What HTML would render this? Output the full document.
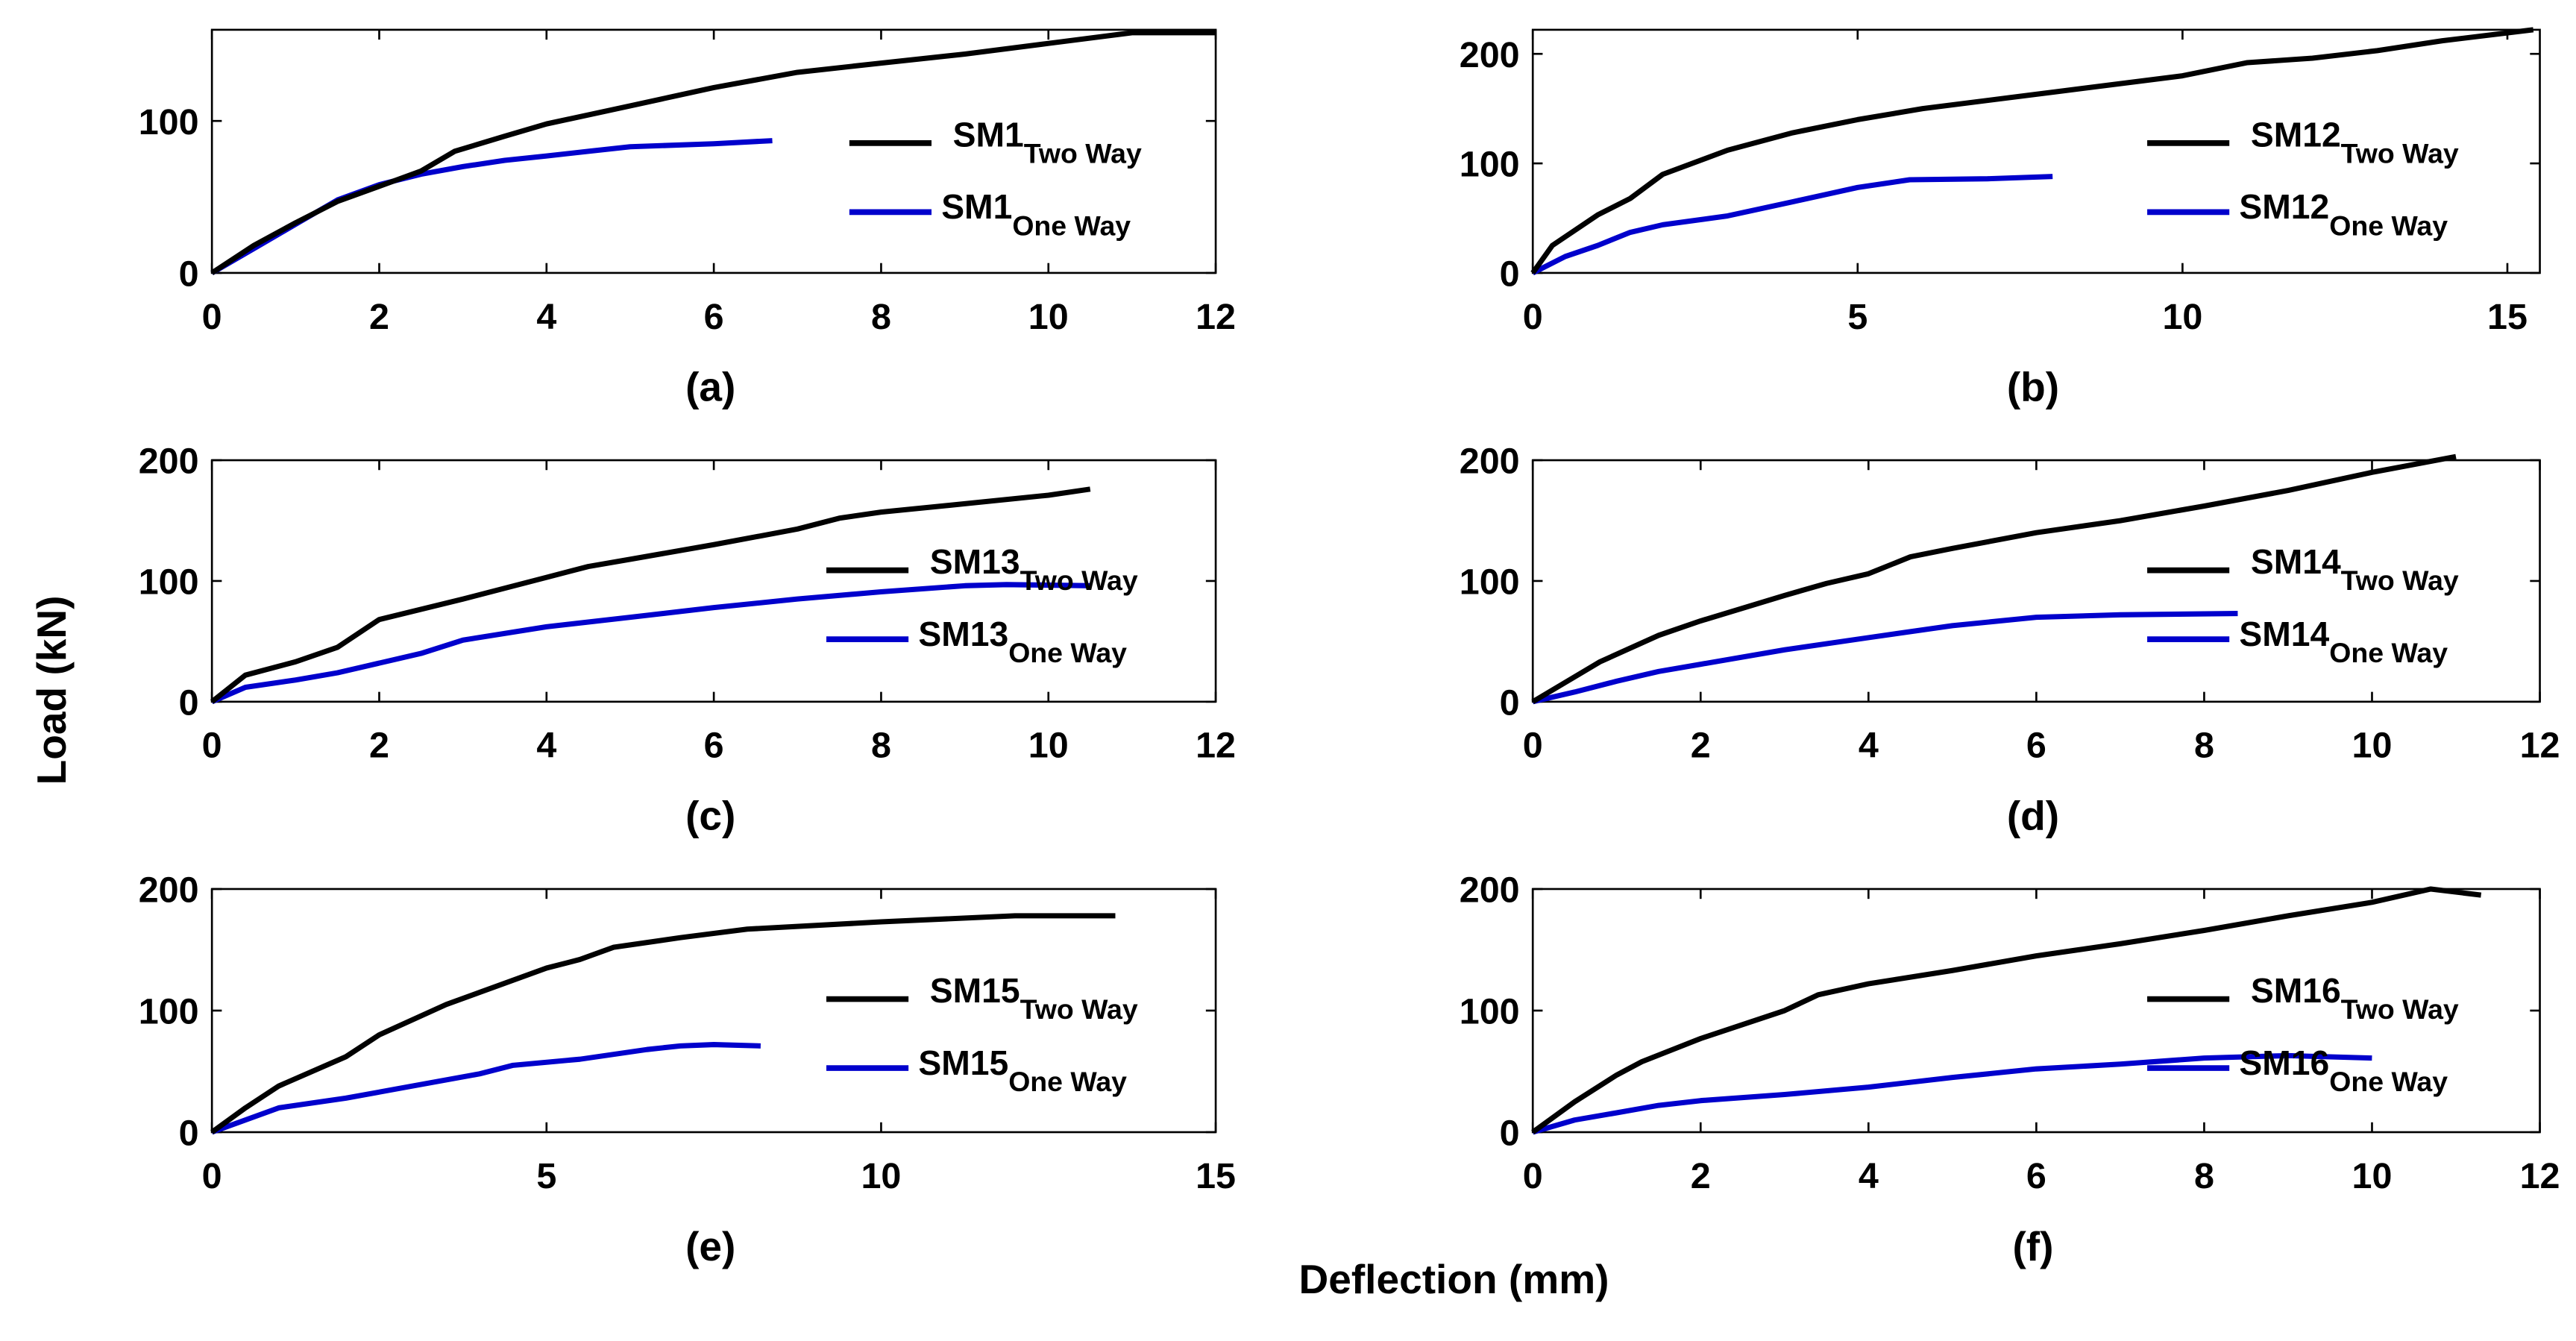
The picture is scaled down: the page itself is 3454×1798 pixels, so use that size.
<!DOCTYPE html>
<html><head><meta charset="utf-8">
<style>
html,body{margin:0;padding:0;background:#fff;}
svg{display:block;font-family:"Liberation Sans",Arial,sans-serif;font-weight:bold;}
</style></head>
<body>
<svg id="fig" width="3454" height="1798" viewBox="0 0 1568 816" xmlns="http://www.w3.org/2000/svg">
<text transform="translate(40,420) rotate(-90)" text-anchor="middle" font-size="25">Load (kN)</text>
<text x="885" y="787" text-anchor="middle" font-size="25">Deflection (mm)</text>
</svg>
<script>
const panelNames = ["a","b","c","d","e","f"];
const specimens = ["SM1","SM12","SM13","SM14","SM15","SM16"];
const xMaxes = [12,15.5,12,12,15,12];
const yMaxes = [160,222,200,200,200,200];
const xTicksA = [0,2,4,6,8,10,12];
const xTicksB = [0,5,10,15];
const xTicksE = [0,5,10,15];
const yTicksA = [0,100];
const yTicksB = [0,100,200];
const yTicksC = [0,100,200];

const twoA_x=[0,0.5,1,1.5,2,2.5,2.9,3.5,4,5,6,7,8,9,10,11,12];
const twoA_y=[0,18,33,47,57,67,80,90,98,110,122,132,138,144,151,158,158];
const oneA_x=[0,0.5,1,1.5,2,2.5,3,3.5,4,4.5,5,6,6.7];
const oneA_y=[0,16,32,48,58,65,70,74,77,80,83,85,87];
const twoB_x=[0,0.3,1,1.5,2,3,4,5,6,8,10,11,12,13,14,15.4];
const twoB_y=[0,25,53,68,90,112,128,140,150,165,180,192,196,203,212,222];
const oneB_x=[0,0.5,1,1.5,2,3,4,5,5.8,7,8];
const oneB_y=[0,15,25,37,44,52,65,78,85,86,88];
const twoC_x=[0,0.4,1,1.5,2,3,4,4.5,5,6,7,7.5,8,9,10,10.5];
const twoC_y=[0,22,33,45,68,85,103,112,118,130,143,152,157,164,171,176];
const oneC_x=[0,0.4,1,1.5,2,2.5,3,4,5,6,7,8,9,9.5,10.5];
const oneC_y=[0,12,18,24,32,40,51,62,70,78,85,91,96,97,96];
const twoD_x=[0,0.8,1.5,2,3,3.5,4,4.5,5,6,7,8,9,10,11];
const twoD_y=[0,33,55,67,88,98,106,120,127,140,150,162,175,190,203];
const oneD_x=[0,0.5,1,1.5,2,3,4,5,6,7,8.4];
const oneD_y=[0,8,17,25,31,43,53,63,70,72,73];
const twoE_x=[0,0.5,1,2,2.5,3.5,4,5,5.5,6,7,8,10,12,13.5];
const twoE_y=[0,20,38,62,80,105,115,135,142,152,160,167,173,178,178];
const oneE_x=[0,1,2,3,4,4.5,5.5,6.5,7,7.5,8.2];
const oneE_y=[0,20,28,38,48,55,60,68,71,72,71];
const twoF_x=[0,0.5,1,1.3,2,3,3.4,4,5,6,7,8,9,10,10.7,11.3];
const twoF_y=[0,25,47,58,77,100,113,122,133,145,155,166,178,189,200,195];
const oneF_x=[0,0.5,1,1.5,2,3,4,5,6,7,8,9,10];
const oneF_y=[0,10,16,22,26,31,37,45,52,56,61,63,61];

const twoX=[twoA_x,twoB_x,twoC_x,twoD_x,twoE_x,twoF_x];
const twoY=[twoA_y,twoB_y,twoC_y,twoD_y,twoE_y,twoF_y];
const oneX=[oneA_x,oneB_x,oneC_x,oneD_x,oneE_x,oneF_x];
const oneY=[oneA_y,oneB_y,oneC_y,oneD_y,oneE_y,oneF_y];
const xTickSets=[xTicksA,xTicksB,xTicksA,xTicksA,xTicksE,xTicksA];
const yTickSets=[yTicksA,yTicksB,yTicksC,yTicksC,yTicksC,yTicksC];

const NS="http://www.w3.org/2000/svg";
const svg=document.getElementById('fig');
function mk(tag,attrs,parent){const e=document.createElementNS(NS,tag);for(const k in attrs)e.setAttribute(k,attrs[k]);(parent||svg).appendChild(e);return e;}

const lefts=[129,933], rights=[740,1546];
const tops=[18,280,541], bottoms=[166,427,689];

for(let i=0;i<6;i++){
  const c=i%2, r=Math.floor(i/2);
  const L=lefts[c],R=rights[c],T=tops[r],B=bottoms[r];
  const sx=v=>L+(R-L)*v/xMaxes[i];
  const sy=v=>B-(B-T)*v/yMaxes[i];
  const g=mk('g',{});
  
  
  const box=mk('rect',{x:L,y:T,width:R-L,height:B-T,fill:'none',stroke:'#000','stroke-width':1.2},g);
  
  
  xTickSets[i].forEach(t=>{
    const x=sx(t);
    mk('line',{x1:x,x2:x,y1:B,y2:B-6,stroke:'#000','stroke-width':1.2},g);
    mk('line',{x1:x,x2:x,y1:T,y2:T+6,stroke:'#000','stroke-width':1.2},g);
    const tx=mk('text',{x:x,y:B+34,'text-anchor':'middle','font-size':22},g);
    tx.textContent=t;
    
    
  });
  yTickSets[i].forEach(t=>{
    const y=sy(t);
    mk('line',{x1:L,x2:L+6,y1:y,y2:y,stroke:'#000','stroke-width':1.2},g);
    mk('line',{x1:R,x2:R-6,y1:y,y2:y,stroke:'#000','stroke-width':1.2},g);
    const ty=mk('text',{x:L-8,y:y+8,'text-anchor':'end','font-size':22},g);
    ty.textContent=t;
    
    
  });
  const path=(xs,ys)=>xs.map((v,k)=>(k?'L':'M')+sx(v).toFixed(1)+','+sy(ys[k]).toFixed(1)).join(' ');
  const p2=mk('path',{d:path(oneX[i],oneY[i]),fill:'none',stroke:'#0000cc','stroke-width':3.2,'stroke-linejoin':'round'},g);
  
  
  const p1=mk('path',{d:path(twoX[i],twoY[i]),fill:'none',stroke:'#000','stroke-width':3.2,'stroke-linejoin':'round'},g);
  
  
  const lx = c===0 ? (r===0?517:503) : 1307;
  const ly1 = r===0?87:(r===1?347:608), ly2 = ly1+42;
  const lg=mk('g',{},g);
  
  
  mk('line',{x1:lx,x2:lx+50,y1:ly1,y2:ly1,stroke:'#000','stroke-width':3.5},lg);
  mk('line',{x1:lx,x2:lx+50,y1:ly2,y2:ly2,stroke:'#0000cc','stroke-width':3.5},lg);
  const t1=mk('text',{x:lx+63,y:ly1+2,'font-size':21},lg);
  t1.innerHTML=specimens[i]+'<tspan dy="10" font-size="17">Two Way</tspan>';
  
  
  const t2=mk('text',{x:lx+56,y:ly2+4,'font-size':21},lg);
  t2.innerHTML=specimens[i]+'<tspan dy="10" font-size="17">One Way</tspan>';
  
  
  const cap=mk('text',{x:(L+R)/2-2,y:B+78,'text-anchor':'middle','font-size':25},g);
  cap.textContent='('+panelNames[i]+')';
  
  
}
</script>
</body></html>
